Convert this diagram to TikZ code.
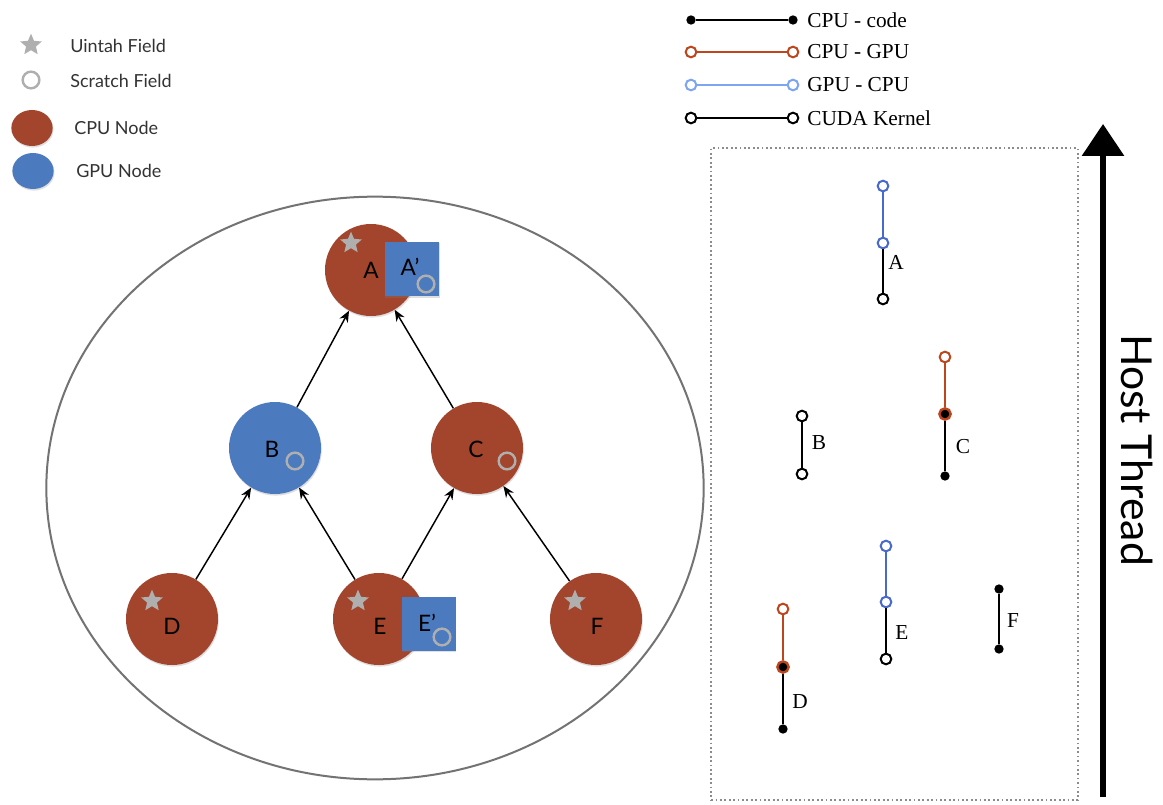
\documentclass[tikz,border=0pt]{standalone}
\usepackage{fontspec}
\setmainfont{Liberation Serif}
\setsansfont{Lato}
\usetikzlibrary{shapes.geometric,arrows.meta,shadows}
\definecolor{cpured}{RGB}{163,69,45}
\definecolor{gpublue}{RGB}{76,122,190}
\definecolor{fieldgray}{RGB}{175,175,175}
\definecolor{xferred}{RGB}{190,70,30}
\definecolor{xferblue}{RGB}{125,165,240}
\definecolor{kernblue}{RGB}{72,105,205}
\begin{document}
\begin{tikzpicture}[x=0.75pt,y=-0.75pt,
  soft/.style={drop shadow={opacity=0.25,shadow xshift=0.6pt,shadow yshift=-1.2pt}},
  cpunode/.style={circle,fill=cpured,minimum size=69pt,inner sep=0pt,soft},
  gpunode/.style={circle,fill=gpublue,minimum size=69pt,inner sep=0pt,soft},
  gpusq/.style={rectangle,fill=gpublue,minimum size=#1,inner sep=0pt,soft},
  scratch/.style={circle,draw=fieldgray,line width=1.8pt,minimum size=12.5pt,inner sep=0pt},
  uintah/.style={star,star points=5,star point ratio=2.2,fill=fieldgray,minimum size=17pt,inner sep=0pt},
  nlabel/.style={font=\sffamily\fontsize{17}{17}\selectfont,inner sep=0pt},
  leglabel/.style={font=\sffamily\fontsize{13.5}{14}\selectfont,anchor=west,text=black!80,inner sep=0pt},
  keylabel/.style={font=\fontsize{16}{17}\selectfont,anchor=west,inner sep=0pt},
  tlabel/.style={font=\fontsize{16}{17}\selectfont,inner sep=0pt},
  depend/.style={-{Stealth[length=8.5pt,width=7pt]},line width=1.1pt},
  opendot/.style={circle,draw=#1,fill=white,line width=1.5pt,minimum size=8pt,inner sep=0pt},
  blackdot/.style={circle,fill=black,minimum size=7pt,inner sep=0pt},
  ringdot/.style={circle,draw=xferred,fill=black,line width=1.8pt,minimum size=8.5pt,inner sep=0pt},
  seg/.style={draw=#1,line width=1.9pt}]
\useasboundingbox[fill=white] (0,0) rectangle (1163,805);

% ---------- legend: fields and node kinds ----------
\node[uintah] (kstar) at (31,45) {};
\node[leglabel] (kstartxt) at (70,46) {Uintah Field};
\node[scratch] (kscr) at (31,80) {};
\node[leglabel] (kscrtxt) at (70,81) {Scratch Field};
\node[ellipse,fill=cpured,minimum width=31pt,minimum height=27pt,inner sep=0pt,soft] (kcpu) at (32,128) {};
\node[leglabel] (kcputxt) at (74,128) {CPU Node};
\node[ellipse,fill=gpublue,minimum width=31pt,minimum height=27pt,inner sep=0pt,soft] (kgpu) at (33,171) {};
\node[leglabel] (kgputxt) at (76,171) {GPU Node};

% ---------- task graph ----------
\node[ellipse,draw=black!55,line width=1.5pt,minimum width=493pt,minimum height=437pt,inner sep=0pt] (graph) at (375,488) {};

\node[cpunode] (A) at (371,270) {};
\node[gpunode] (B) at (275,448) {};
\node[cpunode] (C) at (477,448) {};
\node[cpunode] (D) at (172,619) {};
\node[cpunode] (E) at (379,619) {};
\node[cpunode] (F) at (596,619) {};

\node[gpusq=41pt] (Ap) at (412,269) {};
\node[gpusq=40pt] (Ep) at (429,624) {};

\node[uintah] (sA) at (351,243) {};
\node[uintah] (sD) at (152,601) {};
\node[uintah] (sE) at (358,601) {};
\node[uintah] (sF) at (575,601) {};

\node[scratch] (cA) at (426,284) {};
\node[scratch] (cB) at (295,461) {};
\node[scratch] (cC) at (507,461) {};
\node[scratch] (cE) at (442,637) {};

\node[nlabel] (tA) at (371,270) {A};
\node[nlabel] (tAp) at (410,267) {A’};
\node[nlabel] (tB) at (272,449) {B};
\node[nlabel] (tC) at (476,449) {C};
\node[nlabel] (tD) at (172,626) {D};
\node[nlabel] (tE) at (380,626) {E};
\node[nlabel] (tEp) at (427,623) {E’};
\node[nlabel] (tF) at (597,626) {F};

\draw[depend] (D) -- (B);
\draw[depend] (E) -- (B);
\draw[depend] (E) -- (C);
\draw[depend] (F) -- (C);
\draw[depend] (B) -- (A);
\draw[depend] (C) -- (A);

% ---------- legend: segment kinds ----------
\node[blackdot] (l1a) at (691,20) {};
\node[blackdot] (l1b) at (793,20) {};
\draw[seg=black] (l1a) -- (l1b);
\node[keylabel] (l1t) at (807,20) {CPU - code};
\node[opendot=xferred] (l2a) at (691,52) {};
\node[opendot=xferred] (l2b) at (793,52) {};
\draw[seg=xferred] (l2a) -- (l2b);
\node[keylabel] (l2t) at (807,52) {CPU - GPU};
\node[opendot=xferblue] (l3a) at (691,85) {};
\node[opendot=xferblue] (l3b) at (793,85) {};
\draw[seg=xferblue] (l3a) -- (l3b);
\node[keylabel] (l3t) at (807,85) {GPU - CPU};
\node[opendot=black] (l4a) at (691,118) {};
\node[opendot=black] (l4b) at (793,118) {};
\draw[seg=black] (l4a) -- (l4b);
\node[keylabel] (l4t) at (807,118) {CUDA Kernel};

% ---------- host thread timeline ----------
\node[draw=black!45,dotted,line width=1.3pt,minimum width=275pt,minimum height=489pt,inner sep=0pt] (frame) at (894.5,474) {};

% task A
\node[opendot=kernblue] (a1) at (883,186) {};
\node[opendot=kernblue] (a2) at (883,243) {};
\node[opendot=black] (a3) at (883,299) {};
\draw[seg=kernblue] (a1) -- (a2);
\draw[seg=black] (a2) -- (a3);
\node[tlabel] (la) at (896,262) {A};
% task B
\node[opendot=black] (b1) at (802,416) {};
\node[opendot=black] (b2) at (802,474) {};
\draw[seg=black] (b1) -- (b2);
\node[tlabel] (lb) at (819,443) {B};
% task C
\node[opendot=xferred] (c1) at (945,357) {};
\node[ringdot] (c2) at (945,414) {};
\node[blackdot] (c3) at (945,476) {};
\draw[seg=xferred] (c1) -- (c2);
\draw[seg=black] (c2) -- (c3);
\node[tlabel] (lc) at (963,447) {C};
% task D
\node[opendot=xferred] (d1) at (783,609) {};
\node[ringdot] (d2) at (783,667) {};
\node[blackdot] (d3) at (783,729) {};
\draw[seg=xferred] (d1) -- (d2);
\draw[seg=black] (d2) -- (d3);
\node[tlabel] (ld) at (800,702) {D};
% task E
\node[opendot=kernblue] (e1) at (886,546) {};
\node[opendot=kernblue] (e2) at (886,602) {};
\node[opendot=black] (e3) at (886,659) {};
\draw[seg=kernblue] (e1) -- (e2);
\draw[seg=black] (e2) -- (e3);
\node[tlabel] (le) at (902,633) {E};
% task F
\node[blackdot] (f1) at (999,589) {};
\node[blackdot] (f2) at (999,649) {};
\draw[seg=black] (f1) -- (f2);
\node[tlabel] (lf) at (1013,621) {F};

% host thread arrow
\coordinate (h0) at (1103,797);
\coordinate (h1) at (1103,124);
\draw[line width=4pt,-{Triangle[width=31pt,length=24pt]}] (h0) -- (h1);
\node[font=\sffamily\fontsize{32}{32}\selectfont,rotate=-90,inner sep=0pt] (host) at (1137,450) {Host Thread};
\end{tikzpicture}
\end{document}
